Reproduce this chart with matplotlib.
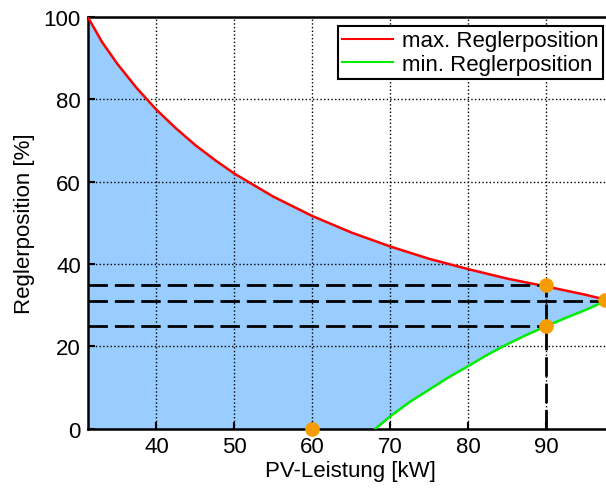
import numpy as np
import matplotlib.pyplot as plt

plt.rcParams['font.family'] = ['Liberation Sans', 'DejaVu Sans']

# values
pv_max = [31.2, 33, 35, 37.5, 40, 42.5, 45, 47.5, 50, 55, 60, 65, 70, 75, 80, 85, 90, 95, 97.6]
reg_max = [100, 94, 88.6, 82.7, 77.5, 73, 68.9, 65.3, 62, 56.4, 51.7, 47.7, 44.3, 41.3, 38.8, 36.5, 34.6, 32.6, 31.4]
pv_min = [68.1, 70, 72.5, 75, 77.5, 80, 82.5, 85, 87.5, 90, 92.5, 95, 97.6]
reg_min = [0, 3, 6.5, 9.5, 12.5, 15.2, 18, 20.5, 22.8, 24.9, 26.9, 28.8, 31]
h_levels = [35, 31, 25]
h_ends = [90, 97.6, 90]
v_x = 90
v_top = 35
dots_x = [90, 90, 60, 97.6]
dots_y = [35, 25, 0, 31.2]

fig = plt.figure(figsize=(6.06, 4.89), dpi=100)
# axes run a little past the right edge of the picture, as in the reference
ax = fig.add_axes([0.145, 0.121, 0.865, 0.842])

xx = np.union1d(pv_max, pv_min)
ax.fill_between(xx, np.interp(xx, pv_min, reg_min, left=0),
                np.interp(xx, pv_max, reg_max), color='#99ccff', lw=0, zorder=1)

ax.plot(pv_max, reg_max, color='red', lw=1.8, label='max. Reglerposition', zorder=3)
ax.plot(pv_min, reg_min, color='#00ee00', lw=1.8, label='min. Reglerposition', zorder=3)

dash = (0, (7, 2.5))
for lvl, xe in zip(h_levels, h_ends):
    ax.plot([31.2, xe], [lvl, lvl], color='black', ls=dash, lw=2, zorder=4)
ax.plot([v_x, v_x], [0, v_top], color='black', ls=dash, lw=2, zorder=4)

ax.plot(dots_x, dots_y, 'o', color='#f59c00', ms=9.5, mec='#f59c00', zorder=5, clip_on=False)

ax.set_xlim(31.2, 98.5)
ax.set_ylim(0, 100)
ax.set_xticks([40, 50, 60, 70, 80, 90])
ax.set_yticks([0, 20, 40, 60, 80, 100])
ax.grid(True, color='black', ls=':', lw=1)
ax.tick_params(direction='in', length=5, width=1.5, labelsize=16, pad=5)
for sp in ax.spines.values():
    sp.set_linewidth(1.8)

ax.set_xlabel('PV-Leistung [kW]', fontsize=16, labelpad=2)
ax.set_ylabel('Reglerposition [%]', fontsize=16, labelpad=6)

leg = ax.legend(loc='upper right', fontsize=16, fancybox=False, framealpha=1,
                edgecolor='black', handlelength=2.3, borderaxespad=0.4,
                labelspacing=0.1, borderpad=0.2, handletextpad=0.4)
leg.get_frame().set_linewidth(1.5)
for ln in leg.get_lines():
    ln.set_linewidth(1.5)

fig.savefig('out.png', dpi=100)
